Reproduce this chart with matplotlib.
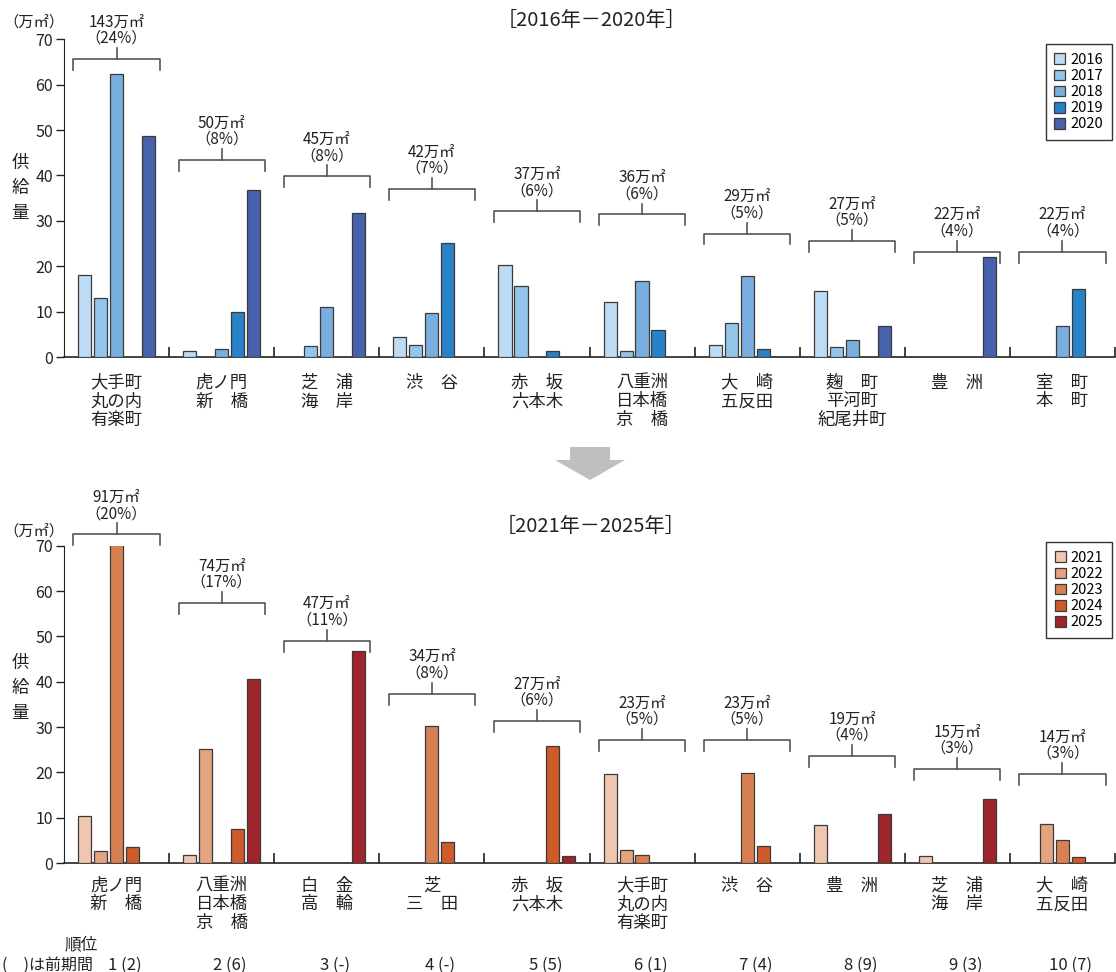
import matplotlib
matplotlib.use("Agg")
import matplotlib.pyplot as plt
from matplotlib.patches import Polygon
import numpy as np

plt.rcParams['font.family'] = ['Noto Sans CJK JP', 'DejaVu Sans']

# ---- data: 2016-2020 ----
areas_top = ["大手町\n丸の内\n有楽町", "虎ノ門\n新　橋", "芝　浦\n海　岸", "渋　谷",
             "赤　坂\n六本木", "八重洲\n日本橋\n京　橋", "大　崎\n五反田",
             "麹　町\n平河町\n紀尾井町", "豊　洲", "室　町\n本　町"]
years_top = ["2016", "2017", "2018", "2019", "2020"]
v2016 = [18.0, 1.4, 0, 4.3, 20.3, 12.2, 2.6, 14.6, 0, 0]
v2017 = [12.9, 0, 2.5, 2.7, 15.6, 1.3, 7.4, 2.3, 0, 0]
v2018 = [62.4, 1.8, 11.0, 9.8, 0, 16.7, 17.8, 3.8, 0, 6.8]
v2019 = [0, 9.9, 0, 25.2, 1.3, 5.9, 1.8, 0, 0, 15.0]
v2020 = [48.6, 36.9, 31.7, 0, 0, 0, 0, 6.8, 22.0, 0]
totals_top = [143, 50, 45, 42, 37, 36, 29, 27, 22, 22]
shares_top = [24, 8, 8, 7, 6, 6, 5, 5, 4, 4]

# ---- data: 2021-2025 ----
areas_bot = ["虎ノ門\n新　橋", "八重洲\n日本橋\n京　橋", "白　金\n高　輪", "芝\n三　田",
             "赤　坂\n六本木", "大手町\n丸の内\n有楽町", "渋　谷", "豊　洲",
             "芝　浦\n海　岸", "大　崎\n五反田"]
years_bot = ["2021", "2022", "2023", "2024", "2025"]
v2021 = [10.4, 1.7, 0, 0, 0, 19.6, 0, 8.3, 1.5, 0]
v2022 = [2.6, 25.1, 0, 0, 0, 2.8, 0, 0, 0, 8.7]
v2023 = [74.5, 0, 0, 30.2, 0, 1.7, 19.8, 0, 0, 5.0]
v2024 = [3.5, 7.4, 0, 4.6, 25.8, 0, 3.7, 0, 0, 1.3]
v2025 = [0, 40.6, 46.7, 0, 1.6, 0, 0, 10.9, 14.1, 0]
totals_bot = [91, 74, 47, 34, 27, 23, 23, 19, 15, 14]
shares_bot = [20, 17, 11, 8, 6, 5, 5, 4, 3, 3]
prev_rank = ["2", "6", "-", "-", "5", "1", "4", "9", "3", "7"]

# bracket heights (data units) for the total labels
bracket_top = [65.6, 43.4, 39.8, 37.0, 32.1, 31.4, 27.2, 25.5, 23.2, 23.2]
bracket_bot = [72.5, 57.3, 49.0, 37.3, 31.3, 27.1, 27.1, 23.6, 20.7, 19.6]

blues = ['#bddcf3', '#93c6ea', '#7aaede', '#2782c7', '#4762ad']
oranges = ['#f0c7ae', '#e4a480', '#d98052', '#cf5a2a', '#9e252b']

W, H = 1116, 972
fig = plt.figure(figsize=(W / 100, H / 100), dpi=100)


def draw_panel(ax, series, years, colors, areas, totals, shares, bracket_y, label_y, legend_top):
    x = np.arange(len(areas))
    offs = (np.arange(5) - 2) * 0.152
    for k, vals in enumerate(series):
        vals = np.asarray(vals, float)
        m = vals > 0
        ax.bar(x[m] + offs[k], vals[m], width=0.125, color=colors[k],
               edgecolor='#3a3a3a', linewidth=0.9, label=years[k], zorder=3)
    ax.set_xlim(-0.5, 9.5)
    ax.set_ylim(0, 70)
    for s in ['top', 'right']:
        ax.spines[s].set_visible(False)
    ax.spines['left'].set_color('#222222')
    ax.spines['bottom'].set_color('#222222')
    ax.spines['bottom'].set_linewidth(1.2)
    ax.set_yticks(range(0, 71, 10))
    ax.tick_params(axis='y', direction='out', length=6, width=1, labelsize=11.5,
                   pad=2, colors='#222222')
    # separators between areas
    ax.set_xticks(np.arange(0.5, 9.6, 1))
    ax.set_xticklabels([])
    ax.tick_params(axis='x', direction='in', length=7, width=1.2, colors='#222222')

    half, drop = 0.41, 2.4
    for i in x:
        y = bracket_y[i]
        ax.plot([i - half, i - half, i + half, i + half], [y - drop, y, y, y - drop],
                color='#555555', lw=1.2, clip_on=False)
        ax.plot([i, i], [y, y + drop], color='#555555', lw=1.2, clip_on=False)
        ax.text(i, y + drop + 0.3, f"{totals[i]}万㎡\n（{shares[i]}%）", ha='center',
                va='bottom', fontsize=11, linespacing=0.95, color='#222222', clip_on=False)
        ax.text(i, label_y, areas[i], ha='center', va='top', fontsize=12.5,
                linespacing=1.05, color='#222222', clip_on=False)

    ax.legend(loc='upper right', bbox_to_anchor=(1112 / W, 1 - legend_top / H),
              bbox_transform=fig.transFigure, fancybox=False, edgecolor='#333333',
              fontsize=10.5, handlelength=0.75, handleheight=0.75, handletextpad=0.35,
              labelspacing=0.15, borderpad=0.6, borderaxespad=0, framealpha=1)


ax1 = fig.add_axes([64 / W, 1 - 357 / H, 1051 / W, 317.7 / H])
draw_panel(ax1, [v2016, v2017, v2018, v2019, v2020], years_top, blues, areas_top,
           totals_top, shares_top, bracket_top, -3.7, 44)

ax2 = fig.add_axes([64 / W, 1 - 863 / H, 1051 / W, 317.3 / H])
draw_panel(ax2, [v2021, v2022, v2023, v2024, v2025], years_bot, oranges, areas_bot,
           totals_bot, shares_bot, bracket_bot, -3.0, 542)

for i in range(10):
    ax2.text(i + 0.08, -22.5, f"{i + 1} ({prev_rank[i]})", ha='center', va='center',
             fontsize=12, color='#222222', clip_on=False)

# titles, unit labels, y label
for ytitle, text in [(20, "［2016年－2020年］"), (527, "［2021年－2025年］")]:
    fig.text(591 / W, 1 - ytitle / H, text, ha='center', va='center', fontsize=14.5,
             color='#222222')
for yu in [22, 531]:
    fig.text(34 / W, 1 - yu / H, "（万㎡）", ha='center', va='center', fontsize=11,
             color='#222222')
for yl in [188, 688]:
    fig.text(20 / W, 1 - yl / H, "供\n給\n量", ha='center', va='center', fontsize=12.5,
             linespacing=1.5, color='#222222')
fig.text(81 / W, 1 - 945 / H, "順位", ha='center', va='center', fontsize=12, color='#222222')
fig.text(2 / W, 1 - 965 / H, "(　)は前期間", ha='left', va='center', fontsize=11.5,
         color='#222222')

# arrow between panels
pts = [(570, 447), (610, 447), (610, 460), (625, 460), (590, 480), (555, 460), (570, 460)]
fig.patches.append(Polygon([(px / W, 1 - py / H) for px, py in pts], closed=True,
                           transform=fig.transFigure, facecolor='#bfbfbf', edgecolor='none'))

fig.savefig('out.png', dpi=100)
